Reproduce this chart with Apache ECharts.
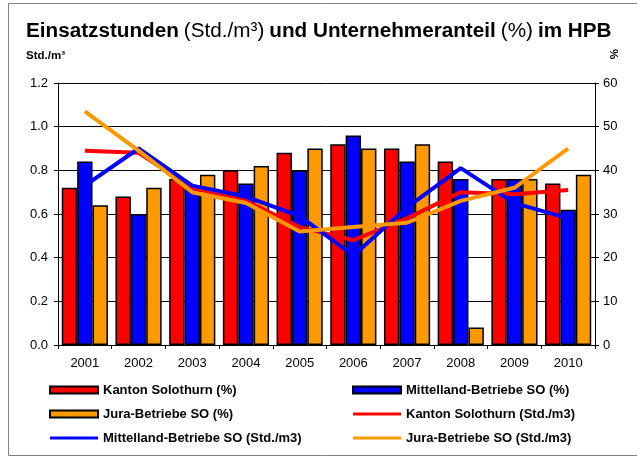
<!DOCTYPE html>
<html>
<head>
<meta charset="utf-8">
<script src="https://cdn.jsdelivr.net/npm/echarts@6/dist/echarts.min.js"></script>
<style>
  html, body { margin: 0; padding: 0; background: #fff; }
  #chart { width: 637px; height: 457px; }
</style>
</head>
<body>
<div id="chart"></div>
<script>
// Jahre
var years = ['2001', '2002', '2003', '2004', '2005', '2006', '2007', '2008', '2009', '2010'];

// Unternehmeranteil in % (Balken, rechte Achse)
var kantonPct     = [36, 34, 38, 40, 44, 46, 45, 42, 38, 37];
var mittellandPct = [42, 30, 36, 37, 40, 48, 42, 38, 38, 31];
var juraPct       = [32, 36, 39, 41, 45, 45, 46, 4, 38, 39];

// Einsatzstunden Std./m3 (Linien, linke Achse)
var kantonStd     = [0.89, 0.88, 0.72, 0.66, 0.54, 0.48, 0.58, 0.70, 0.69, 0.71];
var mittellandStd = [0.73, 0.90, 0.73, 0.68, 0.59, 0.41, 0.63, 0.81, 0.65, 0.58];
var juraStd       = [1.07, 0.89, 0.70, 0.65, 0.52, 0.54, 0.56, 0.66, 0.72, 0.90];

var RED = '#ff0000', BLUE = '#0000ff', ORANGE = '#ff9900';
var FONT = 'Arial, "Liberation Sans", sans-serif';
// flache Linie als Legendensymbol
var LINE_ICON = 'path://M0,0 L48,0 L48,3 L0,3 Z';

function barSeries(name, data, color) {
    return {
        name: name,
        type: 'bar',
        yAxisIndex: 1,
        data: data,
        barGap: '0%',
        barCategoryGap: '14%',
        itemStyle: { color: color, borderColor: '#000', borderWidth: 1.5 }
    };
}

function lineSeries(name, data, color) {
    return {
        name: name,
        type: 'line',
        yAxisIndex: 0,
        data: data,
        symbol: 'none',
        lineStyle: { color: color, width: 4 },
        itemStyle: { color: color }
    };
}

function barItem(name) { return { name: name, icon: 'rect' }; }
function lineItem(name) { return { name: name, icon: LINE_ICON }; }

var legendText = { fontFamily: FONT, fontWeight: 'bold', fontSize: 13, color: '#000', lineHeight: 14 };

var chart = echarts.init(document.getElementById('chart'));
chart.setOption({
    animation: false,
    backgroundColor: '#fff',
    title: {
        left: 21,
        top: 16,
        padding: 5,
        text: '{b|Einsatzstunden} {n|(Std./m³)} {b|und Unternehmeranteil} {n|(%)} {b|im HPB}',
        textStyle: {
            rich: {
                b: { fontFamily: FONT, fontSize: 20.7, fontWeight: 'bold', color: '#000' },
                n: { fontFamily: FONT, fontSize: 20.7, fontWeight: 'normal', color: '#000' }
            }
        }
    },
    legend: [
        {
            orient: 'vertical', left: 49, top: 383, padding: 0,
            itemWidth: 48, itemHeight: 7, itemGap: 10,
            textStyle: legendText,
            data: [barItem('Kanton Solothurn (%)'), barItem('Jura-Betriebe SO (%)'),
                   lineItem('Mittelland-Betriebe SO (Std./m3)')]
        },
        {
            orient: 'vertical', left: 352, top: 383, padding: 0,
            itemWidth: 48, itemHeight: 7, itemGap: 10,
            textStyle: legendText,
            data: [barItem('Mittelland-Betriebe SO (%)'), lineItem('Kanton Solothurn (Std./m3)'),
                   lineItem('Jura-Betriebe SO (Std./m3)')]
        }
    ],
    grid: { left: 58, right: 42, top: 83, bottom: 112 },
    xAxis: {
        type: 'category',
        data: years,
        axisLine: { lineStyle: { color: '#000', width: 1 } },
        axisTick: { show: true, length: 4, lineStyle: { color: '#000' } },
        axisLabel: { fontFamily: FONT, fontSize: 13, color: '#000', margin: 12 }
    },
    yAxis: [
        {
            type: 'value', min: 0, max: 1.2, interval: 0.2,
            axisLine: { show: true, lineStyle: { color: '#000' } },
            axisTick: { show: true, length: 4, lineStyle: { color: '#000' } },
            axisLabel: {
                fontFamily: FONT, fontSize: 13, color: '#000', margin: 10,
                formatter: function (v) { return v.toFixed(1); }
            },
            splitLine: { show: true, lineStyle: { color: '#000', width: 1 } }
        },
        {
            type: 'value', min: 0, max: 60, interval: 10,
            position: 'right',
            axisLine: { show: true, lineStyle: { color: '#000' } },
            axisTick: { show: true, length: 4, lineStyle: { color: '#000' } },
            axisLabel: { fontFamily: FONT, fontSize: 13, color: '#000', margin: 8 },
            splitLine: { show: false }
        }
    ],
    graphic: [
        {
            type: 'rect', silent: true, z: -1,
            shape: { x: 8.5, y: 3.5, width: 640, height: 452 },
            style: { fill: 'none', stroke: '#808080', lineWidth: 1 }
        },
        {
            type: 'text', left: 26, top: 50,
            style: { text: 'Std./m³', fontFamily: FONT, fontSize: 11.5, fontWeight: 'bold', fill: '#000' }
        },
        {
            type: 'text', x: 619, y: 49, rotation: -Math.PI / 2,
            style: { text: '%', fontFamily: FONT, fontSize: 11.5, fontWeight: 'bold', fill: '#000' }
        }
    ],
    series: [
        barSeries('Kanton Solothurn (%)', kantonPct, RED),
        barSeries('Mittelland-Betriebe SO (%)', mittellandPct, BLUE),
        barSeries('Jura-Betriebe SO (%)', juraPct, ORANGE),
        lineSeries('Kanton Solothurn (Std./m3)', kantonStd, RED),
        lineSeries('Mittelland-Betriebe SO (Std./m3)', mittellandStd, BLUE),
        lineSeries('Jura-Betriebe SO (Std./m3)', juraStd, ORANGE)
    ]
});
</script>
</body>
</html>
